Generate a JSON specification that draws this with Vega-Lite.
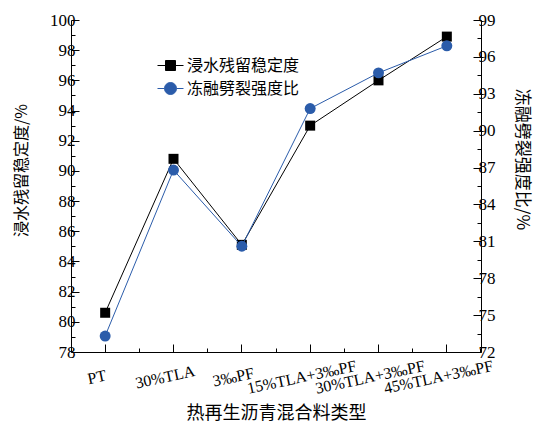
{
  "$schema": "https://vega.github.io/schema/vega-lite/v6.json",
  "width": 410,
  "height": 332,
  "autosize": {"type": "none"},
  "padding": {"left": 71, "top": 20, "right": 56, "bottom": 74},
  "config": {
    "view": {"stroke": null},
    "font": "Liberation Serif",
    "axis": {
      "domainColor": "#000000",
      "domainWidth": 1,
      "ticks": true,
      "tickColor": "#000000",
      "tickWidth": 1,
      "labelColor": "#000000",
      "labelFont": "Liberation Serif",
      "labelFontSize": 17,
      "labelOverlap": false,
      "titleColor": "#000000",
      "titleFont": "Noto Sans CJK SC",
      "titleFontWeight": "normal",
      "grid": false
    }
  },
  "data": {
    "values": [
      {"mix": "PT", "stability": 80.6, "tsr": 73.3},
      {"mix": "30%TLA", "stability": 90.8, "tsr": 86.8},
      {"mix": "3‰PF", "stability": 85.1, "tsr": 80.6},
      {"mix": "15%TLA+3‰PF", "stability": 93.0, "tsr": 91.8},
      {"mix": "30%TLA+3‰PF", "stability": 96.0, "tsr": 94.7},
      {"mix": "45%TLA+3‰PF", "stability": 98.9, "tsr": 96.9}
    ]
  },
  "layer": [
    {
      "layer": [
        {
          "mark": {"type": "line", "color": "#000000", "strokeWidth": 1},
          "encoding": {
            "x": {
              "field": "mix",
              "type": "nominal",
              "sort": null,
              "scale": {"type": "band", "paddingInner": 0, "paddingOuter": 0},
              "axis": {
                "orient": "bottom",
                "bandPosition": 0.5,
                "tickSize": -8,
                "labelFontSize": 16,
                "labelAngle": -12,
                "labelAlign": "center",
                "labelBaseline": "top",
                "labelPadding": 25,
                "labelOffset": -10,
                "title": "热再生沥青混合料类型",
                "titleFontSize": 18,
                "titleY": 61,
                "titleBaseline": "middle"
              }
            },
            "y": {
              "field": "stability",
              "type": "quantitative",
              "scale": {"domain": [78, 100], "nice": false, "zero": false},
              "axis": {
                "orient": "left",
                "values": [78, 80, 82, 84, 86, 88, 90, 92, 94, 96, 98, 100],
                "tickSize": -8,
                "labelPadding": 4,
                "title": "浸水残留稳定度/%",
                "titleFontSize": 16,
                "titleX": -50,
                "titleY": 150,
                "titleBaseline": "middle"
              }
            }
          }
        },
        {
          "mark": {"type": "point", "shape": "square", "filled": true, "size": 100, "opacity": 1},
          "encoding": {
            "x": {"field": "mix", "type": "nominal", "sort": null, "axis": null},
            "y": {
              "field": "stability",
              "type": "quantitative",
              "axis": {
                "orient": "left",
                "values": [79, 81, 83, 85, 87, 89, 91, 93, 95, 97, 99],
                "tickSize": -4,
                "labels": false,
                "domain": false,
                "title": null
              }
            },
            "color": {
              "datum": "浸水残留稳定度",
              "type": "nominal",
              "scale": {
                "domain": ["浸水残留稳定度", "冻融劈裂强度比"],
                "range": ["#000000", "#2b5caa"]
              },
              "legend": {
                "orient": "none",
                "legendX": 89,
                "legendY": 35,
                "title": null,
                "padding": 0,
                "rowPadding": 4,
                "symbolSize": 400,
                "labelOffset": 6,
                "labelFont": "Noto Sans CJK SC",
                "labelFontSize": 16,
                "labelColor": "#000000",
                "encoding": {
                  "symbols": {
                    "shape": {
                      "condition": {"test": "datum.value === '浸水残留稳定度'", "value": "M-1.3,0H-0.5M0.5,0H1.3M-0.5,-0.5H0.5V0.5H-0.5Z"},
                      "value": "M-1.3,0H-0.6M0.6,0H1.3M-0.6,0A0.6,0.6 0 1,1 0.6,0A0.6,0.6 0 1,1 -0.6,0Z"
                    },
                    "stroke": {
                      "condition": {"test": "datum.value === '浸水残留稳定度'", "value": "#000000"},
                      "value": "#2b5caa"
                    },
                    "strokeWidth": {"value": 1}
                  }
                }
              }
            }
          }
        }
      ],
      "resolve": {"axis": {"x": "independent", "y": "independent"}}
    },
    {
      "layer": [
        {
          "mark": {"type": "line", "color": "#2b5caa", "strokeWidth": 1},
          "encoding": {
            "x": {
              "field": "mix",
              "type": "nominal",
              "sort": null,
              "axis": {
                "orient": "bottom",
                "bandPosition": 1,
                "tickSize": -4,
                "labels": false,
                "domain": false,
                "title": null
              }
            },
            "y": {
              "field": "tsr",
              "type": "quantitative",
              "scale": {"domain": [72, 99], "nice": false, "zero": false},
              "axis": {
                "orient": "right",
                "values": [72, 75, 78, 81, 84, 87, 90, 93, 96, 99],
                "tickSize": -8,
                "labelPadding": 5,
                "title": "冻融劈裂强度比/%",
                "titleFontSize": 17,
                "titleX": 40,
                "titleY": 139,
                "titleBaseline": "middle"
              }
            }
          }
        },
        {
          "mark": {"type": "point", "shape": "circle", "filled": true, "size": 120, "opacity": 1},
          "encoding": {
            "x": {"field": "mix", "type": "nominal", "sort": null, "axis": null},
            "y": {
              "field": "tsr",
              "type": "quantitative",
              "axis": {
                "orient": "right",
                "values": [73.5, 76.5, 79.5, 82.5, 85.5, 88.5, 91.5, 94.5, 97.5],
                "tickSize": -4,
                "labels": false,
                "domain": false,
                "title": null
              }
            },
            "color": {"datum": "冻融劈裂强度比", "type": "nominal"}
          }
        }
      ],
      "resolve": {"axis": {"x": "independent", "y": "independent"}}
    }
  ],
  "resolve": {"scale": {"y": "independent"}, "axis": {"x": "independent", "y": "independent"}}
}
